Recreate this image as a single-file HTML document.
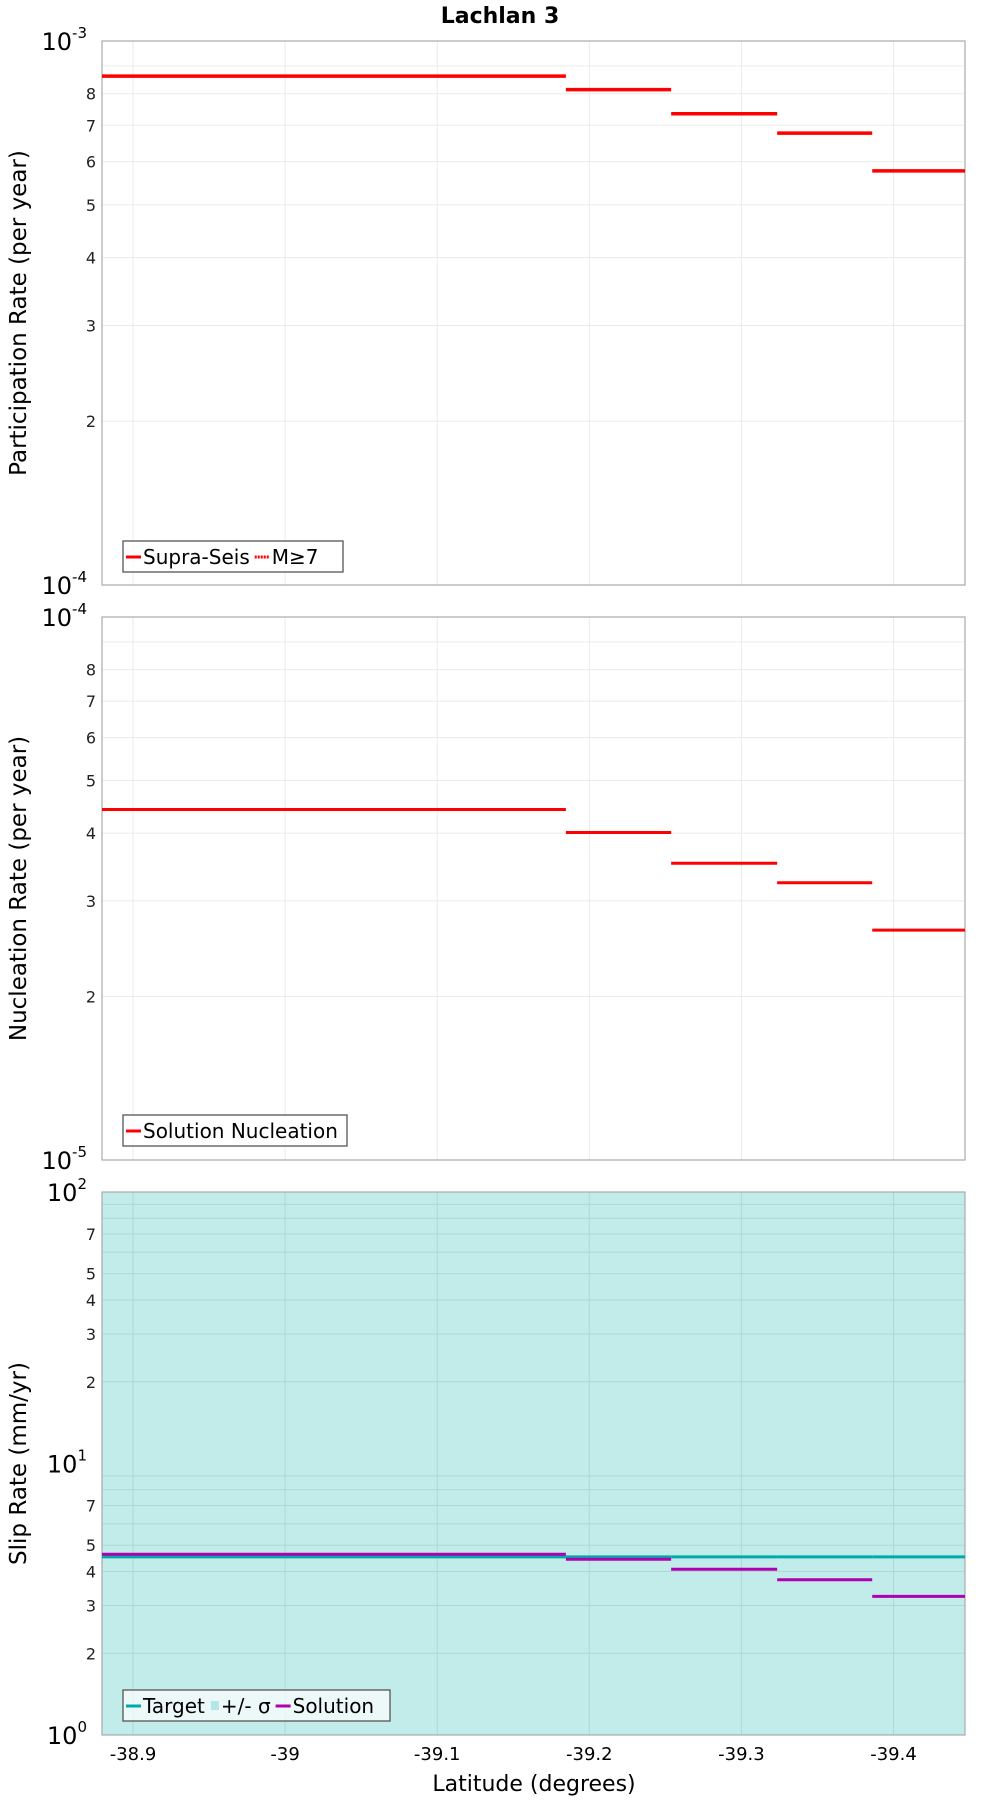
<!DOCTYPE html>
<html><head><meta charset="utf-8"><style>
body{margin:0;background:#fff;}
svg{display:block;font-family:"DejaVu Sans","Liberation Sans",sans-serif;}
</style></head><body>
<svg id="chart" width="1000" height="1800" viewBox="0 0 1000 1800" xmlns="http://www.w3.org/2000/svg">
<text x="500" y="23" text-anchor="middle" font-size="22" font-weight="bold">Lachlan 3</text>
<g id="g"></g>
</svg>
<script>
const segBounds = [-38.8796, -39.1846, -39.2538, -39.3235, -39.386, -39.447];
const partValues = [8.62e-4, 8.14e-4, 7.35e-4, 6.77e-4, 5.77e-4];
const nuclValues = [4.42e-5, 4.01e-5, 3.52e-5, 3.24e-5, 2.65e-5];
const targetValues = [4.53, 4.53, 4.53, 4.53, 4.53];
const solutionValues = [4.63, 4.44, 4.08, 3.73, 3.24];
const xTicks = [-38.9, -39.0, -39.1, -39.2, -39.3, -39.4];
const xTickLabels = ["-38.9", "-39", "-39.1", "-39.2", "-39.3", "-39.4"];
const minorLabels = [2,3,4,5,6,7,8];
const slipMinorLabels = [2,3,4,5,7];

const NS="http://www.w3.org/2000/svg";
const g=document.getElementById('g');
function el(tag,attrs,parent){const e=document.createElementNS(NS,tag);for(const k in attrs)e.setAttribute(k,attrs[k]);(parent||g).appendChild(e);return e;}
const L=102,R=965;
const xDom=[-38.8796,-39.447];
function X(v){return L+(v-xDom[0])/(xDom[1]-xDom[0])*(R-L);}

function panel(top,bottom,lo,hi,name,ylabel,labels,fill){
  const Y=v=>bottom-(Math.log10(v)-Math.log10(lo))/(Math.log10(hi)-Math.log10(lo))*(bottom-top);
  const grp=el('g',{});
  
  
  if(fill){const r=el('rect',{x:L,y:top,width:R-L,height:bottom-top,fill:'#c2ecea'},grp);
    
    }
  const gc=fill?'#add8d6':'#ebebeb';
  xTicks.forEach(t=>{const l=el('line',{x1:X(t),x2:X(t),y1:top,y2:bottom,stroke:gc,'stroke-width':1},grp);
    
    });
  for(let d=Math.log10(lo);d<Math.log10(hi);d++){
    const base=Math.pow(10,d);
    for(let m=2;m<=9;m++){const v=m*base,y=Y(v);
      const l=el('line',{x1:L,x2:R,y1:y,y2:y,stroke:gc,'stroke-width':1},grp);
      
      
      if(labels.includes(m)){const t=el('text',{x:96,y:y+6,'text-anchor':'end','font-size':16,fill:'#222'},grp);t.textContent=m;
        
        }}
    const t=el('text',{x:87,y:bottom-(d-Math.log10(lo))/(Math.log10(hi)-Math.log10(lo))*(bottom-top)+9,'text-anchor':'end','font-size':24},grp);
    t.textContent='10';
    
    
    const s=el('tspan',{dy:-12,'font-size':15},t);s.textContent=String(d);
  }
  const tt=el('text',{x:87,y:top+9,'text-anchor':'end','font-size':24},grp);tt.textContent='10';
  
  
  const ts=el('tspan',{dy:-12,'font-size':15},tt);ts.textContent=String(Math.log10(hi));
  const br=el('rect',{x:L,y:top,width:R-L,height:bottom-top,fill:'none',stroke:'#aaa','stroke-width':1.2},grp);
  
  
  const yl=el('text',{x:0,y:0,'text-anchor':'middle','font-size':23,transform:`translate(26,${(top+bottom)/2}) rotate(-90)`},grp);
  yl.textContent=ylabel;
  
  
  return {Y,grp};
}
function segs(p,vals,color,name,w){
  vals.forEach((v,i)=>{const l=el('line',{x1:X(segBounds[i]),x2:X(segBounds[i+1]),y1:p.Y(v),y2:p.Y(v),stroke:color,'stroke-width':w||3},p.grp);
    
    });
}
function legend(p,x,y,w,items){
  const lg=el('g',{},p.grp);
  
  
  el('rect',{x:x,y:y,width:w,height:31,fill:'rgba(255,255,255,0.7)',stroke:'#555','stroke-width':1.3},lg);
  let cx=x+3;
  items.forEach(it=>{
    const e=el('g',{},lg);
    
    
    if(it.box){el('rect',{x:cx+1,y:y+11,width:8,height:9,fill:it.c},e);cx+=11;}
    else{el('line',{x1:cx,x2:cx+15,y1:y+16,y2:y+16,stroke:it.c,'stroke-width':3,'stroke-dasharray':it.dash||''},e);cx+=17;}
    const t=el('text',{x:cx,y:y+23,'font-size':20},e);t.textContent=it.t;
    cx+=t.getComputedTextLength()+5;
  });
}
const p1=panel(41,585,1e-4,1e-3,'participation','Participation Rate (per year)',minorLabels,false);
segs(p1,partValues,'#ff0000','participation-segment',3.5);
legend(p1,123,541,220,[{c:'#ff0000',t:'Supra-Seis'},{c:'#ff0000',t:'M≥7',dash:'2,1'}]);
const p2=panel(617,1160,1e-5,1e-4,'nucleation','Nucleation Rate (per year)',minorLabels,false);
segs(p2,nuclValues,'#ff0000','nucleation-segment',3);
legend(p2,123,1115,224,[{c:'#ff0000',t:'Solution Nucleation'}]);
const p3=panel(1192,1735,1,100,'slip-rate','Slip Rate (mm/yr)',slipMinorLabels,true);
segs(p3,targetValues,'#00aaaa','target-segment',3);
segs(p3,solutionValues,'#b000b0','solution-segment',3);
legend(p3,123,1690,267,[{c:'#00aaaa',t:'Target'},{c:'#b3e6e6',t:'+/- σ',box:true},{c:'#b000b0',t:'Solution'}]);
xTicks.forEach((t,i)=>{const tx=el('text',{x:X(t),y:1760,'text-anchor':'middle','font-size':18});tx.textContent=xTickLabels[i];
  
  });
const xt=el('text',{x:534,y:1791,'text-anchor':'middle','font-size':22});xt.textContent='Latitude (degrees)';


</script>
</body></html>
